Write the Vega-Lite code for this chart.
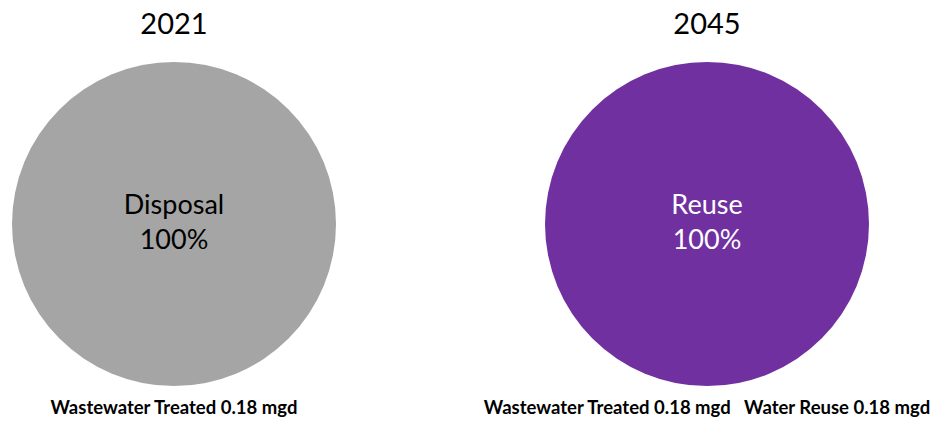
{
  "$schema": "https://vega.github.io/schema/vega-lite/v6.json",
  "width": 935,
  "height": 422,
  "autosize": {"type": "fit", "contains": "padding"},
  "padding": {"left": 0, "right": 0, "top": 24, "bottom": 0},
  "background": "white",
  "config": {"view": {"stroke": null}, "font": "Lato"},
  "data": {
    "values": [
      {"year": "2021", "category": "Disposal", "share": 1, "footer": "Wastewater Treated 0.18 mgd"},
      {"year": "2045", "category": "Reuse", "share": 1, "footer": "Wastewater Treated 0.18 mgd\u00a0\u00a0\u00a0Water Reuse 0.18 mgd"}
    ]
  },
  "encoding": {
    "x": {"field": "year", "type": "nominal", "scale": {"type": "point", "domain": ["2021", "2045"], "range": [174, 707], "padding": 0}, "axis": null}
  },
  "layer": [
    {
      "mark": {"type": "arc", "outerRadius": 162},
      "encoding": {
        "theta": {"field": "share", "type": "quantitative", "stack": false, "scale": {"domain": [0, 1]}},
        "color": {"field": "category", "type": "nominal", "scale": {"domain": ["Disposal", "Reuse"], "range": ["#A5A5A5", "#7030A0"]}, "legend": null}
      }
    },
    {
      "mark": {"type": "text", "fontSize": 29, "dy": -199, "baseline": "middle", "color": "black"},
      "encoding": {"text": {"field": "year"}}
    },
    {
      "mark": {"type": "text", "fontSize": 27, "dy": -18, "baseline": "middle"},
      "encoding": {
        "text": {"field": "category"},
        "color": {"condition": {"test": "datum.category === 'Reuse'", "value": "white"}, "value": "black"}
      }
    },
    {
      "mark": {"type": "text", "fontSize": 27, "dy": 17, "baseline": "middle"},
      "encoding": {
        "text": {"field": "share", "type": "quantitative", "format": ".0%"},
        "color": {"condition": {"test": "datum.category === 'Reuse'", "value": "white"}, "value": "black"}
      }
    },
    {
      "mark": {"type": "text", "fontSize": 18.5, "fontWeight": "bold", "dy": 184, "baseline": "middle", "color": "black"},
      "encoding": {"text": {"field": "footer"}}
    }
  ]
}
